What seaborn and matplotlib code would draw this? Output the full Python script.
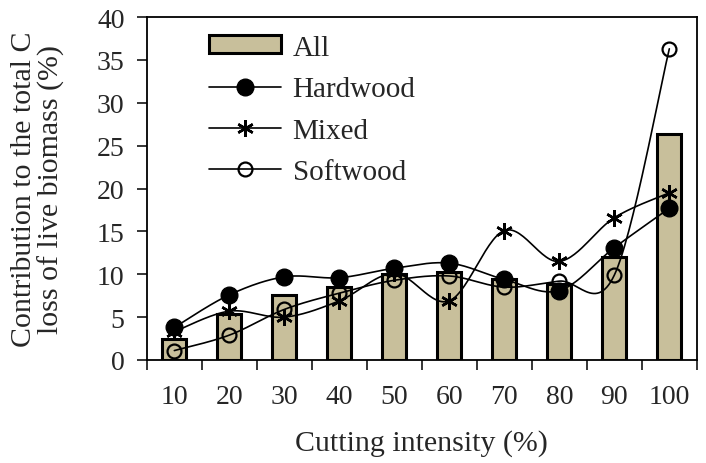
import numpy as np
import pandas as pd
import matplotlib
matplotlib.use("Agg")
import matplotlib.pyplot as plt
import seaborn as sns
from matplotlib.lines import Line2D
from matplotlib.patches import Patch

categories = ["10", "20", "30", "40", "50", "60", "70", "80", "90", "100"]
all_vals = [2.5, 5.4, 7.6, 8.5, 10.0, 10.3, 9.4, 8.9, 12.0, 26.4]
hardwood = [3.8, 7.6, 9.7, 9.6, 10.7, 11.3, 9.4, 8.1, 13.1, 17.7]
mixed = [3.3, 5.7, 5.0, 6.9, 10.1, 6.9, 15.1, 11.5, 16.6, 19.5]
softwood = [1.1, 2.9, 5.9, 7.8, 9.3, 9.8, 8.5, 9.2, 9.9, 36.3]


def smooth(y, n=30):
    """Catmull-Rom curve through the points, like Excel's smoothed line."""
    y = np.asarray(y, dtype=float)
    x = np.arange(len(y), dtype=float)
    px = np.concatenate([[x[0]], x, [x[-1]]])
    py = np.concatenate([[y[0]], y, [y[-1]]])
    xs, ys = [], []
    t = np.linspace(0, 1, n)
    for i in range(1, len(px) - 2):
        for arr, out in ((px, xs), (py, ys)):
            p0, p1, p2, p3 = arr[i - 1], arr[i], arr[i + 1], arr[i + 2]
            c1 = p1 + (p2 - p0) / 6
            c2 = p2 - (p3 - p1) / 6
            out.append((1 - t) ** 3 * p1 + 3 * (1 - t) ** 2 * t * c1
                       + 3 * (1 - t) * t ** 2 * c2 + t ** 3 * p2)
    return np.concatenate(xs), np.concatenate(ys)


sns.set_theme(style="ticks")
plt.rcParams["font.family"] = ["Liberation Serif", "DejaVu Serif"]
plt.rcParams["font.size"] = 20

fig = plt.figure(figsize=(7.06, 4.64), dpi=100)
ax = fig.add_axes([0.208, 0.222, 0.779, 0.739])

df = pd.DataFrame({"cut": categories, "All": all_vals})
sns.barplot(data=df, x="cut", y="All", color="#C8BF9B", width=0.44,
            edgecolor="black", linewidth=2.2, saturation=1, ax=ax, zorder=2)

xpos = np.arange(len(categories))
styles = {
    "Hardwood": (hardwood, dict(marker="o", ms=12, mfc="black", mec="black")),
    "Mixed": (mixed, dict(marker=(6, 2, 0), ms=12, mfc="black", mec="black", mew=1.8)),
    "Softwood": (softwood, dict(marker="o", ms=10, mfc="none", mec="black", mew=1.6)),
}
for name, (vals, kw) in styles.items():
    sx, sy = smooth(vals)
    ax.plot(sx, sy, color="black", lw=1.2, zorder=3)
    ax.plot(xpos, vals, ls="none", zorder=4, **kw)

ax.set_xlim(-0.5, len(categories) - 0.5)
ax.set_ylim(0, 40)
ax.set_yticks(range(0, 41, 5))
ax.set_xticks(np.arange(-0.5, len(categories), 1), minor=True)
ax.tick_params(axis="x", which="major", length=0, pad=17, labelsize=20)
ax.tick_params(axis="x", which="minor", length=7, width=1.3, direction="out")
ax.tick_params(axis="y", length=7, width=1.3, direction="out", labelsize=20, pad=9)
for sp in ax.spines.values():
    sp.set_visible(True)
    sp.set_linewidth(1.3)
    sp.set_color("black")

ax.set_xlabel("Cutting intensity (%)", fontsize=21.5)
ax.set_ylabel("Contribution to the total C\nloss of live biomass (%)", fontsize=21.5,
              linespacing=1.05)
ax.xaxis.set_label_coords(0.5, -0.2)
ax.yaxis.set_label_coords(-0.148, 0.5)

handles = [
    Patch(facecolor="#C8BF9B", edgecolor="black", linewidth=2.2, label="All"),
    Line2D([], [], color="black", lw=1.2, label="Hardwood", **styles["Hardwood"][1]),
    Line2D([], [], color="black", lw=1.2, label="Mixed", **styles["Mixed"][1]),
    Line2D([], [], color="black", lw=1.2, label="Softwood", **styles["Softwood"][1]),
]
ax.legend(handles=handles, loc="upper left", bbox_to_anchor=(0.082, 1.0),
          frameon=False, fontsize=21, handlelength=2.45, handleheight=0.55,
          labelspacing=0.53, handletextpad=0.4, borderaxespad=0.2)

fig.savefig("out.png", dpi=100)
